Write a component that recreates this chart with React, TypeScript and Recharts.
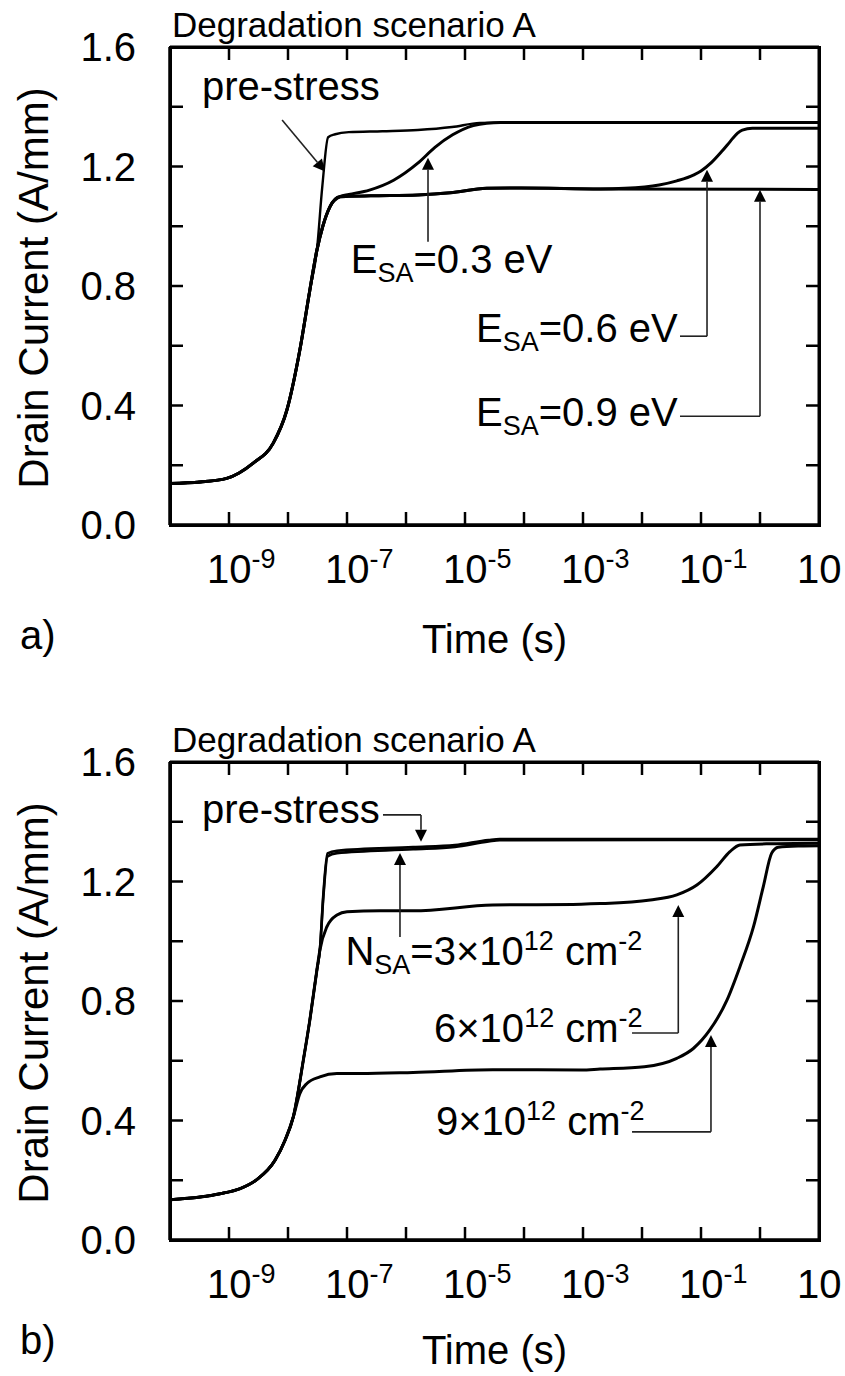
import React from 'react';
import { LineChart, Line, XAxis, YAxis, CartesianGrid, ReferenceLine, ReferenceDot } from 'recharts';

const FONT = "'Liberation Sans', Arial, Helvetica, sans-serif";

// time axis (decades, s) and drain current ticks (A/mm)
const decadeExps = [-10, -9, -8, -7, -6, -5, -4, -3, -2, -1, 0, 1];
const labelledExps = [-9, -7, -5, -3, -1, 1];
const currentTicks = [0, 0.2, 0.4, 0.6, 0.8, 1.0, 1.2, 1.4, 1.6];
const currentLabels = [0, 0.4, 0.8, 1.2, 1.6];

// ---- panel a: log10(t) and current values ----
const aRiseLogT = [-10, -9.49, -9.04, -8.59, -8.25, -8.02, -7.8, -7.63, -7.51];
const aRiseCur = [0.139, 0.144, 0.156, 0.207, 0.274, 0.384, 0.585, 0.786, 0.92];

const aPreLogT = [-7.42, -7.32, -7.2, -6.97, -6.4, -5.8, -5.22, -4.75, -4.4, 1];
const aPreCur = [1.13, 1.298, 1.308, 1.315, 1.318, 1.322, 1.332, 1.346, 1.347, 1.347];

const aKneeLogT = [-7.41, -7.29, -7.12];
const aKneeCur = [1.0, 1.065, 1.099];

const aE03LogT = [-6.97, -6.62, -6.21, -5.8, -5.51, -5.21, -4.86, -4.63, -4.4, 1];
const aE03Cur = [1.106, 1.121, 1.154, 1.211, 1.264, 1.306, 1.337, 1.345, 1.347, 1.347];

const aE06LogT = [-6.97, -6.6, -5.8, -5.25, -4.63, -4.05, -2.71, -2.29, -1.71, -1.41, -1.12, -1.0, -0.83, -0.65, -0.5, -0.38, -0.3, -0.13, 1];
const aE06Cur = [1.1, 1.102, 1.105, 1.112, 1.127, 1.128, 1.125, 1.127, 1.138, 1.152, 1.172, 1.185, 1.212, 1.25, 1.285, 1.312, 1.322, 1.328, 1.328];

const aE09LogT = [-6.97, -6.6, -5.8, -5.25, -4.63, -4.05, -2.71, 1];
const aE09Cur = [1.1, 1.102, 1.105, 1.112, 1.127, 1.128, 1.125, 1.123];

// ---- panel b ----
const bRiseLogT = [-10, -9.49, -9.15, -8.81, -8.53, -8.22, -8.05, -7.91];
const bRiseCur = [0.135, 0.144, 0.155, 0.172, 0.202, 0.267, 0.334, 0.412];

const bUpperLogT = [-7.74, -7.63, -7.51, -7.46];
const bUpperCur = [0.602, 0.736, 0.904, 0.97];

const bPreLogT = [-7.4, -7.33, -7.17, -5.88, -5.17, -4.6, -4.41, 1];
const bPreCur = [1.16, 1.294, 1.303, 1.315, 1.322, 1.339, 1.342, 1.342];

const bN3LogT = [-7.4, -7.33, -7.17, -5.88, -5.17, -4.6, -4.41, 1];
const bN3Cur = [1.15, 1.284, 1.295, 1.308, 1.316, 1.334, 1.338, 1.339];

const bN6LogT = [-7.34, -7.17, -7.0, -6.44, -5.88, -4.53, -3.03, -2.71, -1.86, -1.41, -1.07, -0.73, -0.51, -0.34, 0.11, 1];
const bN6Cur = [1.049, 1.088, 1.099, 1.102, 1.102, 1.121, 1.124, 1.126, 1.138, 1.155, 1.188, 1.25, 1.3, 1.322, 1.326, 1.328];

const bN9LogT = [-7.8, -7.68, -7.46, -7.17, -6.78, -5.88, -4.53, -3.03, -2.71, -1.96, -1.41, -1.13, -0.85, -0.56, -0.34, -0.11, 0.056, 0.198, 0.31, 0.68, 1];
const bN9Cur = [0.49, 0.524, 0.546, 0.557, 0.557, 0.561, 0.57, 0.569, 0.572, 0.58, 0.608, 0.641, 0.703, 0.803, 0.915, 1.049, 1.183, 1.295, 1.315, 1.319, 1.32];

const toPoints = (logT: number[], cur: number[]) =>
  logT.map((e, k) => ({ t: Math.pow(10, e), i: cur[k] }));

const PLOT_TOP = 47;
const PLOT_BOTTOM = 525;
const PLOT_LEFT = 170;
const PLOT_RIGHT = 819;
const TICK = 13;

const T_MIN = 1e-10;
const T_MAX = 10;
const I_MAX = 1.6;

// ---- ticks: inward marks on all four sides plus labels ----
const TimeTick = (p: any) => {
  const e = Math.round(Math.log10(p.payload.value));
  const inner = e > -10 && e < 1;
  return (
    <g>
      {inner && (
        <g stroke="#000" strokeWidth={2.5}>
          <line x1={p.x} y1={PLOT_BOTTOM} x2={p.x} y2={PLOT_BOTTOM - TICK} />
          <line x1={p.x} y1={PLOT_TOP} x2={p.x} y2={PLOT_TOP + TICK} />
        </g>
      )}
      {labelledExps.includes(e) && (
        <text x={p.x - 22} y={PLOT_BOTTOM + 58} fontSize={40} fontFamily={FONT} fill="#000">
          10{e !== 1 && <tspan dy={-15} fontSize={27}>{e}</tspan>}
        </text>
      )}
    </g>
  );
};

const CurrentTick = (p: any) => {
  const v = p.payload.value;
  const inner = v > 0.01 && v < 1.59;
  const lab = currentLabels.some((c) => Math.abs(c - v) < 1e-6);
  return (
    <g>
      {inner && (
        <g stroke="#000" strokeWidth={2.5}>
          <line x1={PLOT_LEFT} y1={p.y} x2={PLOT_LEFT + TICK} y2={p.y} />
          <line x1={PLOT_RIGHT} y1={p.y} x2={PLOT_RIGHT - TICK} y2={p.y} />
        </g>
      )}
      {lab && (
        <text x={PLOT_LEFT - 34} y={p.y + 14} textAnchor="end" fontSize={40} fontFamily={FONT} fill="#000">
          {v.toFixed(1)}
        </text>
      )}
    </g>
  );
};

// ---- annotation shapes ----
const arrowShape = (p: any) => {
  const { x1, y1, x2, y2 } = p;
  const ang = Math.atan2(y2 - y1, x2 - x1);
  const len = 12;
  const half = 6;
  const bx = x2 - len * Math.cos(ang);
  const by = y2 - len * Math.sin(ang);
  const px = -Math.sin(ang) * half;
  const py = Math.cos(ang) * half;
  return (
    <g>
      <line x1={x1} y1={y1} x2={bx} y2={by} stroke="#222" strokeWidth={1.6} />
      <polygon points={`${x2},${y2} ${bx + px},${by + py} ${bx - px},${by - py}`} fill="#000" />
    </g>
  );
};

const subText = (main: string, sub: string, rest: string) => (p: any) => (
  <text x={p.cx} y={p.cy} fontSize={40} fontFamily={FONT} fill="#000">
    {main}
    <tspan dy={9} fontSize={27}>{sub}</tspan>
    <tspan dy={-9}>{rest}</tspan>
  </text>
);

const densityText = (prefix: React.ReactNode, lead: string) => (p: any) => (
  <text x={p.cx} y={p.cy} fontSize={40} fontFamily={FONT} fill="#000">
    {prefix}
    <tspan>{lead}</tspan>
    <tspan dy={-15} fontSize={27}>12</tspan>
    <tspan dy={15}>{'\u00a0cm'}</tspan>
    <tspan dy={-15} fontSize={27}>-2</tspan>
  </text>
);

const plainText = (s: string) => (p: any) => (
  <text x={p.cx} y={p.cy} fontSize={40} fontFamily={FONT} fill="#000">{s}</text>
);

type Seg = { from: [number, number]; to: [number, number]; arrow: boolean };
type Note = { at: [number, number]; shape: (p: any) => React.ReactElement };

const seg = (e1: number, c1: number, e2: number, c2: number, arrow: boolean): Seg => ({
  from: [e1, c1],
  to: [e2, c2],
  arrow,
});

const aSegs: Seg[] = [
  seg(-8.1, 1.356, -7.373, 1.183, true),
  seg(-5.627, 0.948, -5.627, 1.229, true),
  seg(-1.356, 0.632, -0.898, 0.632, false),
  seg(-0.898, 0.632, -0.898, 1.189, true),
  seg(-1.356, 0.364, 0.0, 0.364, false),
  seg(0.0, 0.364, 0.0, 1.122, true),
];
const aNotes: Note[] = [
  { at: [-9.458, 1.423], shape: plainText('pre-stress') },
  { at: [-6.937, 0.843], shape: subText('E', 'SA', '=0.3 eV') },
  { at: [-4.814, 0.612], shape: subText('E', 'SA', '=0.6 eV') },
  { at: [-4.814, 0.332], shape: subText('E', 'SA', '=0.9 eV') },
];

const bSegs: Seg[] = [
  seg(-6.39, 1.423, -5.746, 1.423, false),
  seg(-5.746, 1.423, -5.746, 1.333, true),
  seg(-6.102, 1.014, -6.102, 1.295, true),
  seg(-2.169, 0.693, -1.385, 0.693, false),
  seg(-1.385, 0.693, -1.385, 1.121, true),
  seg(-2.169, 0.362, -0.831, 0.362, false),
  seg(-0.831, 0.362, -0.831, 0.686, true),
];
const bNotes: Note[] = [
  { at: [-9.458, 1.395], shape: plainText('pre-stress') },
  {
    at: [-7.027, 0.92],
    shape: densityText(
      <>
        N<tspan dy={9} fontSize={27}>SA</tspan>
        <tspan dy={-9}>=</tspan>
      </>,
      '3×10'
    ),
  },
  { at: [-5.525, 0.663], shape: densityText(null, '6×10') },
  { at: [-5.492, 0.351], shape: densityText(null, '9×10') },
];

type Series = { key: string; pts: { t: number; i: number }[]; width: number };

const aSeries: Series[] = [
  { key: 'E09', pts: toPoints([...aRiseLogT, ...aKneeLogT, ...aE09LogT], [...aRiseCur, ...aKneeCur, ...aE09Cur]), width: 3 },
  { key: 'E06', pts: toPoints([...aRiseLogT, ...aKneeLogT, ...aE06LogT], [...aRiseCur, ...aKneeCur, ...aE06Cur]), width: 3 },
  { key: 'E03', pts: toPoints([...aRiseLogT, ...aKneeLogT, ...aE03LogT], [...aRiseCur, ...aKneeCur, ...aE03Cur]), width: 3 },
  { key: 'pre', pts: toPoints([...aRiseLogT, ...aPreLogT], [...aRiseCur, ...aPreCur]), width: 2.4 },
];

const bSeries: Series[] = [
  { key: 'N9', pts: toPoints([...bRiseLogT, ...bN9LogT], [...bRiseCur, ...bN9Cur]), width: 3 },
  { key: 'N6', pts: toPoints([...bRiseLogT, ...bUpperLogT, ...bN6LogT], [...bRiseCur, ...bUpperCur, ...bN6Cur]), width: 3 },
  { key: 'N3', pts: toPoints([...bRiseLogT, ...bUpperLogT, ...bN3LogT], [...bRiseCur, ...bUpperCur, ...bN3Cur]), width: 2.6 },
  { key: 'pre', pts: toPoints([...bRiseLogT, ...bUpperLogT, ...bPreLogT], [...bRiseCur, ...bUpperCur, ...bPreCur]), width: 2.6 },
];

interface PanelProps {
  height: number;
  letter: string;
  letterBaseline: number;
  timeBaseline: number;
  series: Series[];
  segs: Seg[];
  notes: Note[];
}

function Panel({ height, letter, letterBaseline, timeBaseline, series, segs, notes }: PanelProps) {
  const axisLine = { stroke: '#000', strokeWidth: 3 };
  const ticks = decadeExps.map((e) => Math.pow(10, e));
  return (
    <div style={{ position: 'relative', width: 845, height }}>
      <LineChart
        width={845}
        height={height}
        margin={{ top: PLOT_TOP, right: 845 - PLOT_RIGHT, bottom: 0, left: 0 }}
      >
        {/* plot frame: only the four edges of the grid */}
        <CartesianGrid
          xAxisId="t"
          yAxisId="i"
          stroke="#000"
          strokeWidth={3}
          strokeDasharray="0"
          horizontalPoints={[PLOT_TOP, PLOT_BOTTOM]}
          verticalPoints={[PLOT_LEFT, PLOT_RIGHT]}
          fill="none"
        />
        <XAxis
          xAxisId="t"
          dataKey="t"
          type="number"
          scale="log"
          domain={[T_MIN, T_MAX]}
          allowDataOverflow
          ticks={ticks}
          interval={0}
          height={height - PLOT_BOTTOM}
          tickSize={0}
          tickMargin={0}
          tickLine={false}
          axisLine={axisLine}
          tick={(p: any) => <TimeTick {...p} />}
          label={() => (
            <g fontFamily={FONT} fill="#000">
              <text x={(PLOT_LEFT + PLOT_RIGHT) / 2} y={PLOT_BOTTOM + timeBaseline} textAnchor="middle" fontSize={40}>
                Time (s)
              </text>
              <text x={20} y={PLOT_BOTTOM + letterBaseline} fontSize={40}>{letter}</text>
              <text x={PLOT_LEFT + 2} y={PLOT_TOP - 10} fontSize={35}>Degradation scenario A</text>
            </g>
          )}
        />
        <YAxis
          yAxisId="i"
          type="number"
          domain={[0, I_MAX]}
          allowDataOverflow
          ticks={currentTicks}
          interval={0}
          width={PLOT_LEFT}
          tickSize={0}
          tickMargin={0}
          tickLine={false}
          axisLine={axisLine}
          tick={(p: any) => <CurrentTick {...p} />}
          label={() => (
            <text
              x={48}
              y={(PLOT_TOP + PLOT_BOTTOM) / 2 + 2}
              transform={`rotate(-90 48 ${(PLOT_TOP + PLOT_BOTTOM) / 2 + 2})`}
              textAnchor="middle"
              fontFamily={FONT}
              fontSize={42}
              fill="#000"
            >
              Drain Current (A/mm)
            </text>
          )}
        />
        {series.map((s) => (
          <Line
            key={s.key}
            xAxisId="t"
            yAxisId="i"
            data={s.pts}
            dataKey="i"
            type="monotone"
            stroke="#000"
            strokeWidth={s.width}
            dot={false}
            activeDot={false}
            isAnimationActive={false}
          />
        ))}
        {segs.map((g, k) => (
          <ReferenceLine
            key={`seg${k}`}
            xAxisId="t"
            yAxisId="i"
            segment={[
              { x: Math.pow(10, g.from[0]), y: g.from[1] },
              { x: Math.pow(10, g.to[0]), y: g.to[1] },
            ]}
            stroke="#222"
            strokeWidth={1.6}
            ifOverflow="visible"
            shape={g.arrow ? arrowShape : undefined}
          />
        ))}
        {notes.map((n, k) => (
          <ReferenceDot
            key={`note${k}`}
            xAxisId="t"
            yAxisId="i"
            x={Math.pow(10, n.at[0])}
            y={n.at[1]}
            r={0}
            ifOverflow="visible"
            shape={n.shape}
          />
        ))}
      </LineChart>
      {/* box outline over the plot area */}
      <div
        style={{
          position: 'absolute',
          left: PLOT_LEFT - 1.5,
          top: PLOT_TOP - 1.5,
          width: PLOT_RIGHT - PLOT_LEFT + 3,
          height: PLOT_BOTTOM - PLOT_TOP + 3,
          border: '3px solid #000',
          boxSizing: 'border-box',
          pointerEvents: 'none',
        }}
      />
    </div>
  );
}

export default function App() {
  return (
    <div style={{ position: 'absolute', left: 0, top: 0, width: 845, background: '#fff', fontFamily: FONT }}>
      <Panel
        height={715}
        letter="a)"
        letterBaseline={124}
        timeBaseline={128}
        series={aSeries}
        segs={aSegs}
        notes={aNotes}
      />
      <Panel
        height={661}
        letter="b)"
        letterBaseline={114}
        timeBaseline={124}
        series={bSeries}
        segs={bSegs}
        notes={bNotes}
      />
    </div>
  );
}
